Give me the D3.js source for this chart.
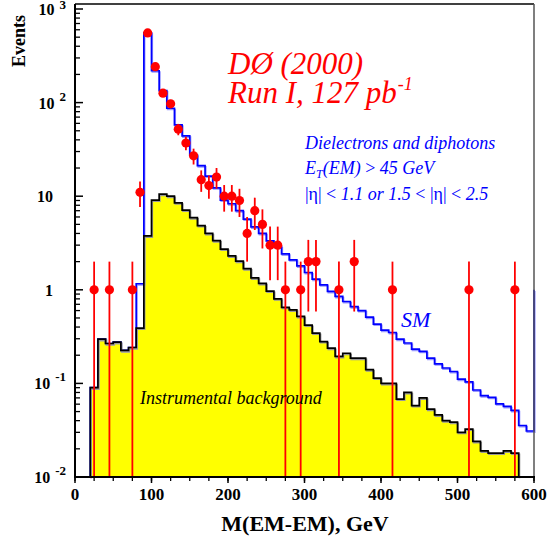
<!DOCTYPE html>
<html><head><meta charset="utf-8">
<script src="https://cdn.jsdelivr.net/npm/d3@7"></script>
<style>body{margin:0;background:#fff}</style>
</head><body>
<svg id="c" width="552" height="542"></svg>
<script>
// ---------------- data ----------------
const binWidth = 10;
const smBinLow = d3.range(20, 600, 10);   // 20 .. 590
const bkgBinLow = d3.range(20, 580, 10);  // 20 .. 570
const bkgValues = [0.09,0.297,0.267,0.276,0.225,0.242,0.39,3.76,9.1,10.5,
  10.0,8.5,7.1,5.9,4.85,4.0,3.35,2.72,2.3,2.02,
  1.68,1.34,1.17,0.97,0.80,0.65,0.61,0.52,0.42,0.345,
  0.28,0.238,0.194,0.21,0.186,0.186,0.14,0.114,0.1,0.1,
  0.068,0.08,0.058,0.07,0.053,0.046,0.04,0.0385,0.030,0.0325,
  0.024,0.019,0.018,0.018,0.019,0.018];
const smValues = [0.09,0.297,0.267,0.276,0.225,0.242,1.16,555,219,134,
  87,57.7,44,27.5,21.2,16.4,12.3,9.1,8.3,7.0,
  5.7,4.7,4.0,3.34,2.9,2.42,2.09,1.8,1.53,1.3,
  1.13,0.96,0.85,0.75,0.66,0.6,0.51,0.43,0.37,0.35,
  0.297,0.27,0.232,0.22,0.186,0.162,0.146,0.134,0.111,0.104,
  0.085,0.074,0.071,0.0605,0.0567,0.0514,0.0355,0.031];
const smOverflow = 1;
const dataMass = [25,45,75,85,95,105,115,125,135,145,155,165,175,185,195,205,215,225,235,245,255,265,275,295,305,315,345,365,415,515,575];
const dataCounts = [1,1,1,11,555,242,126,97,52,37,27,15,13,16,10,10,9,4,7,5,3,3,1,1,2,2,1,2,1,1,1];
const xMajorTicks = [0,100,200,300,400,500,600];
const xMinorTicks = d3.range(0, 601, 25);
const yDecades = [-2,-1,0,1,2,3];

// ---------------- chart ----------------
const svg = d3.select("#c");
const FONT = "'Liberation Serif','Times New Roman',serif";
const x = d3.scaleLinear().domain([0,600]).range([75,534]);
const y = d3.scaleLog().domain([0.01,1000]).range([477,9]).clamp(true);
const yMin = 0.01;
const frameTop = 4;

function stepPoints(lows, vals, endVal){
  const pts = [[lows[0], yMin]];
  vals.forEach((v,i)=>{ pts.push([lows[i], v]); pts.push([lows[i]+binWidth, v]); });
  pts.push([lows[lows.length-1]+binWidth, endVal]);
  return pts;
}
const bkgPts = stepPoints(bkgBinLow, bkgValues, yMin);
const smPts = stepPoints(smBinLow, smValues, smOverflow);
const line = d3.line().x(d=>x(d[0])).y(d=>y(d[1]));
const area = d3.area().x(d=>x(d[0])).y0(y(yMin)).y1(d=>y(d[1]));

svg.append("path").attr("d", area(bkgPts)).attr("fill","#ffff00");

// SM line with soft shadow
svg.append("path").attr("d", line(smPts)).attr("fill","none")
  .attr("stroke","#9999ff").attr("stroke-width",1.6).attr("transform","translate(0.8,1.2)");
svg.append("path").attr("d", line(smPts)).attr("fill","none")
  .attr("stroke","#0000ff").attr("stroke-width",1.7);

// background line with shadow
svg.append("path").attr("d", line(bkgPts)).attr("fill","none")
  .attr("stroke","#999").attr("stroke-width",1.6).attr("transform","translate(0.8,1.2)");
svg.append("path").attr("d", line(bkgPts)).attr("fill","none")
  .attr("stroke","#000").attr("stroke-width",1.7);

// data points
const pts = dataMass.map((m,i)=>({m, n:dataCounts[i]}));
svg.append("g").selectAll("line").data(pts).join("line")
  .attr("x1",d=>x(d.m)).attr("x2",d=>x(d.m))
  .attr("y1",d=>y(d.n+Math.sqrt(d.n)))
  .attr("y2",d=>{const lo=d.n-Math.sqrt(d.n); return lo<=yMin? y(yMin): y(lo);})
  .attr("stroke","#ff0000").attr("stroke-width",1.8);
svg.append("g").selectAll("circle").data(pts).join("circle")
  .attr("cx",d=>x(d.m)).attr("cy",d=>y(d.n)).attr("r",4.6).attr("fill","#ff0000");

// frame
svg.append("line").attr("x1",75).attr("x2",534).attr("y1",frameTop).attr("y2",frameTop)
  .attr("stroke","#000").attr("stroke-width",1.5);
svg.append("line").attr("x1",534).attr("x2",534).attr("y1",frameTop).attr("y2",477)
  .attr("stroke","#555").attr("stroke-width",1.5);

// y axis
const yAxis = svg.append("g");
yAxis.append("line").attr("x1",75).attr("x2",75).attr("y1",frameTop).attr("y2",478)
  .attr("stroke","#000").attr("stroke-width",2);
const yMinor = [];
yDecades.slice(0,-1).forEach(e=>{ for(let k=2;k<=9;k++) yMinor.push(k*Math.pow(10,e)); });
yAxis.selectAll(".ymin").data(yMinor).join("line").attr("class","ymin")
  .attr("x1",75).attr("x2",80).attr("y1",d=>y(d)).attr("y2",d=>y(d))
  .attr("stroke","#000").attr("stroke-width",1.3);
yAxis.selectAll(".ymaj").data(yDecades).join("line").attr("class","ymaj")
  .attr("x1",75).attr("x2",83).attr("y1",d=>y(Math.pow(10,d))).attr("y2",d=>y(Math.pow(10,d)))
  .attr("stroke","#000").attr("stroke-width",1.5);
yDecades.forEach(e=>{
  const yy = y(Math.pow(10,e)) + 6;
  if (e===0 || e===1){
    svg.append("text").attr("x",53).attr("y",yy).attr("text-anchor","end")
      .attr("font-family",FONT).attr("font-weight","bold").attr("font-size",16)
      .text(e===0?"1":"10");
  } else {
    const t = svg.append("text").attr("x",66).attr("y",yy).attr("text-anchor","end")
      .attr("font-family",FONT).attr("font-weight","bold").attr("font-size",16);
    t.append("tspan").text("10");
    t.append("tspan").attr("dx",5).attr("dy",e===3?-6:-8).attr("font-size",13).text(e<0? "-"+Math.abs(e): String(e));
  }
});

// x axis
const xAxis = svg.append("g");
xAxis.append("line").attr("x1",74).attr("x2",535).attr("y1",477).attr("y2",477)
  .attr("stroke","#000").attr("stroke-width",2);
xAxis.selectAll(".xmin").data(xMinorTicks).join("line").attr("class","xmin")
  .attr("x1",d=>x(d)).attr("x2",d=>x(d)).attr("y1",477).attr("y2",481)
  .attr("stroke","#000").attr("stroke-width",1.3);
xAxis.selectAll(".xmaj").data(xMajorTicks).join("line").attr("class","xmaj")
  .attr("x1",d=>x(d)).attr("x2",d=>x(d)).attr("y1",477).attr("y2",483)
  .attr("stroke","#000").attr("stroke-width",1.5);
xAxis.selectAll(".xlab").data(xMajorTicks).join("text").attr("class","xlab")
  .attr("x",d=>x(d)).attr("y",500).attr("text-anchor","middle")
  .attr("font-family",FONT).attr("font-weight","bold").attr("font-size",17)
  .text(d=>d);

// axis titles
svg.append("text").attr("x",305).attr("y",531).attr("text-anchor","middle")
  .attr("font-family",FONT).attr("font-weight","bold").attr("font-size",22)
  .text("M(EM-EM), GeV");
svg.append("text").attr("transform","translate(25,41) rotate(-90)").attr("text-anchor","middle")
  .attr("font-family",FONT).attr("font-weight","bold").attr("font-size",18)
  .text("Events");

// annotations
svg.append("text").attr("x",228).attr("y",74).attr("font-family",FONT).attr("font-style","italic")
  .attr("font-size",31).attr("fill","#ff0000").text("DØ (2000)");
const run = svg.append("text").attr("x",228).attr("y",103).attr("font-family",FONT).attr("font-style","italic")
  .attr("font-size",31).attr("fill","#ff0000");
run.append("tspan").text("Run I, 127 pb");
run.append("tspan").attr("dx",1).attr("dy",-13).attr("font-size",18).text("-1");

const blue = "#0000ff";
svg.append("text").attr("x",305).attr("y",149).attr("font-family",FONT).attr("font-style","italic")
  .attr("font-size",18).attr("fill",blue).text("Dielectrons and diphotons");
const et = svg.append("text").attr("x",305).attr("y",174).attr("font-family",FONT).attr("font-style","italic")
  .attr("font-size",18).attr("fill",blue);
et.append("tspan").text("E");
et.append("tspan").attr("dy",4).attr("font-size",12).text("T");
et.append("tspan").attr("dy",-4).text("(EM) ");
et.append("tspan").attr("font-style","normal").text(">");
et.append("tspan").text(" 45 GeV");
const eta = svg.append("text").attr("x",305).attr("y",200).attr("font-family",FONT)
  .attr("font-size",18).attr("fill",blue);
[["|η| < ",false],["1.1 or 1.5",true],[" < |η| < ",false],["2.5",true]].forEach(([s,it])=>{
  eta.append("tspan").attr("font-style", it?"italic":"normal").text(s);
});
svg.append("text").attr("x",401).attr("y",327).attr("font-family",FONT).attr("font-style","italic")
  .attr("font-size",22).attr("fill",blue).text("SM");
svg.append("text").attr("x",140).attr("y",404).attr("font-family",FONT).attr("font-style","italic")
  .attr("font-size",18).attr("fill","#000").text("Instrumental background");
</script>
</body></html>
